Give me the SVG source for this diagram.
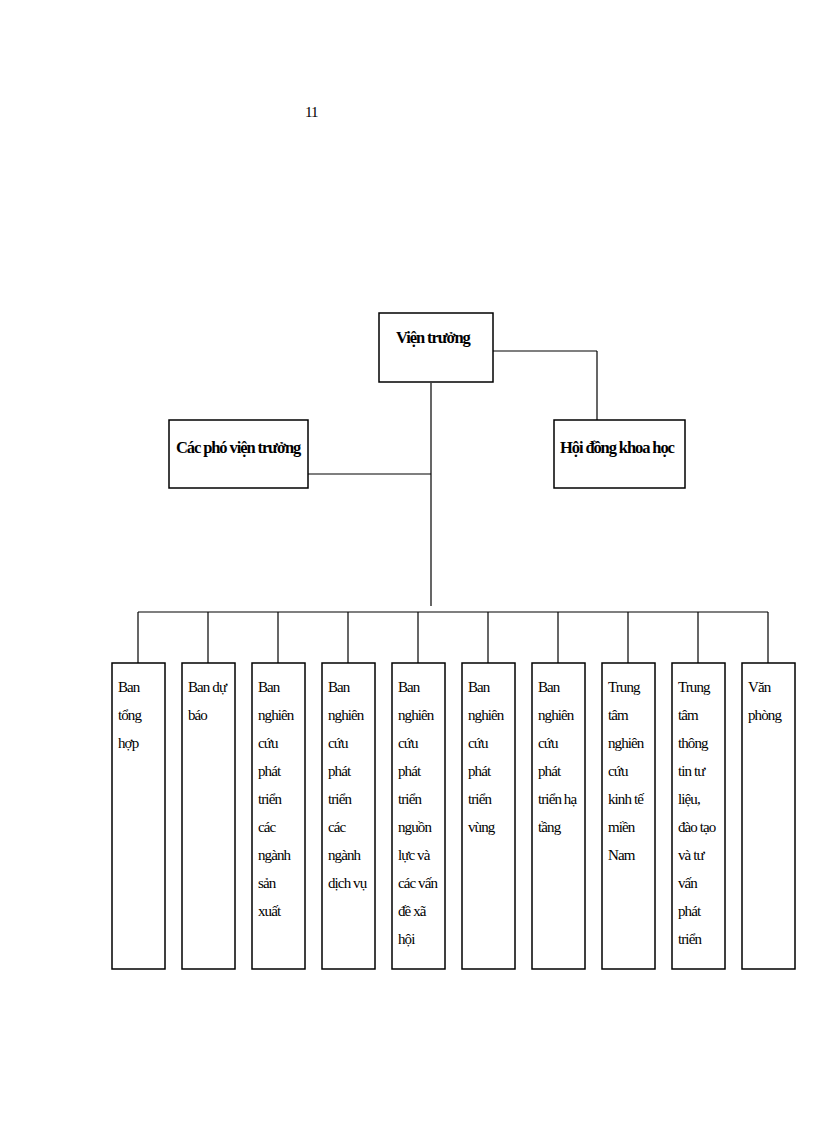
<svg xmlns="http://www.w3.org/2000/svg" width="816" height="1123" viewBox="0 0 816 1123">
<style>
rect{fill:#fff;stroke:#000;stroke-width:1.5}
.c line{stroke:#000;stroke-width:1.2}
text{font-family:"Liberation Serif",serif;font-size:15px;letter-spacing:-0.9px;fill:#000}
.b{font-weight:bold;font-size:16.5px;letter-spacing:-1.1px}
</style>
<rect x="0" y="0" width="816" height="1123" style="stroke:none"/>
<text x="305" y="117">11</text>
<g class="c">
<line x1="493" y1="351" x2="597" y2="351"/><line x1="597" y1="351" x2="597" y2="420"/>
<line x1="431" y1="383" x2="431" y2="606"/>
<line x1="308" y1="474" x2="431" y2="474"/>
<line x1="138" y1="612" x2="768" y2="612"/>
<line x1="138" y1="612" x2="138" y2="663"/><line x1="208" y1="612" x2="208" y2="663"/><line x1="278" y1="612" x2="278" y2="663"/><line x1="348" y1="612" x2="348" y2="663"/><line x1="418" y1="612" x2="418" y2="663"/><line x1="488" y1="612" x2="488" y2="663"/><line x1="558" y1="612" x2="558" y2="663"/><line x1="628" y1="612" x2="628" y2="663"/><line x1="698" y1="612" x2="698" y2="663"/><line x1="768" y1="612" x2="768" y2="663"/>
</g>
<g id="vien"><rect x="379" y="313" width="114" height="69"/><text class="b" x="396" y="343">Viện trưởng</text></g>
<g id="pho"><rect x="169" y="420" width="139" height="68"/><text class="b" x="176" y="453">Các phó viện trưởng</text></g>
<g id="hoidong"><rect x="554" y="420" width="131" height="68"/><text class="b" x="560" y="453">Hội đồng khoa học</text></g>
<g id="n1"><rect x="112" y="663" width="53" height="306"/><text x="118" y="692"><tspan x="118">Ban</tspan><tspan x="118" dy="28">tổng</tspan><tspan x="118" dy="28">hợp</tspan></text></g>
<g id="n2"><rect x="182" y="663" width="53" height="306"/><text x="188" y="692"><tspan x="188">Ban dự</tspan><tspan x="188" dy="28">báo</tspan></text></g>
<g id="n3"><rect x="252" y="663" width="53" height="306"/><text x="258" y="692"><tspan x="258">Ban</tspan><tspan x="258" dy="28">nghiên</tspan><tspan x="258" dy="28">cứu</tspan><tspan x="258" dy="28">phát</tspan><tspan x="258" dy="28">triển</tspan><tspan x="258" dy="28">các</tspan><tspan x="258" dy="28">ngành</tspan><tspan x="258" dy="28">sản</tspan><tspan x="258" dy="28">xuất</tspan></text></g>
<g id="n4"><rect x="322" y="663" width="53" height="306"/><text x="328" y="692"><tspan x="328">Ban</tspan><tspan x="328" dy="28">nghiên</tspan><tspan x="328" dy="28">cứu</tspan><tspan x="328" dy="28">phát</tspan><tspan x="328" dy="28">triển</tspan><tspan x="328" dy="28">các</tspan><tspan x="328" dy="28">ngành</tspan><tspan x="328" dy="28">dịch vụ</tspan></text></g>
<g id="n5"><rect x="392" y="663" width="53" height="306"/><text x="398" y="692"><tspan x="398">Ban</tspan><tspan x="398" dy="28">nghiên</tspan><tspan x="398" dy="28">cứu</tspan><tspan x="398" dy="28">phát</tspan><tspan x="398" dy="28">triển</tspan><tspan x="398" dy="28">nguồn</tspan><tspan x="398" dy="28">lực và</tspan><tspan x="398" dy="28">các vấn</tspan><tspan x="398" dy="28">đề xã</tspan><tspan x="398" dy="28">hội</tspan></text></g>
<g id="n6"><rect x="462" y="663" width="53" height="306"/><text x="468" y="692"><tspan x="468">Ban</tspan><tspan x="468" dy="28">nghiên</tspan><tspan x="468" dy="28">cứu</tspan><tspan x="468" dy="28">phát</tspan><tspan x="468" dy="28">triển</tspan><tspan x="468" dy="28">vùng</tspan></text></g>
<g id="n7"><rect x="532" y="663" width="53" height="306"/><text x="538" y="692"><tspan x="538">Ban</tspan><tspan x="538" dy="28">nghiên</tspan><tspan x="538" dy="28">cứu</tspan><tspan x="538" dy="28">phát</tspan><tspan x="538" dy="28">triển hạ</tspan><tspan x="538" dy="28">tầng</tspan></text></g>
<g id="n8"><rect x="602" y="663" width="53" height="306"/><text x="608" y="692"><tspan x="608">Trung</tspan><tspan x="608" dy="28">tâm</tspan><tspan x="608" dy="28">nghiên</tspan><tspan x="608" dy="28">cứu</tspan><tspan x="608" dy="28">kinh tế</tspan><tspan x="608" dy="28">miền</tspan><tspan x="608" dy="28">Nam</tspan></text></g>
<g id="n9"><rect x="672" y="663" width="53" height="306"/><text x="678" y="692"><tspan x="678">Trung</tspan><tspan x="678" dy="28">tâm</tspan><tspan x="678" dy="28">thông</tspan><tspan x="678" dy="28">tin tư</tspan><tspan x="678" dy="28">liệu,</tspan><tspan x="678" dy="28">đào tạo</tspan><tspan x="678" dy="28">và tư</tspan><tspan x="678" dy="28">vấn</tspan><tspan x="678" dy="28">phát</tspan><tspan x="678" dy="28">triển</tspan></text></g>
<g id="n10"><rect x="742" y="663" width="53" height="306"/><text x="748" y="692"><tspan x="748">Văn</tspan><tspan x="748" dy="28">phòng</tspan></text></g>
</svg>
